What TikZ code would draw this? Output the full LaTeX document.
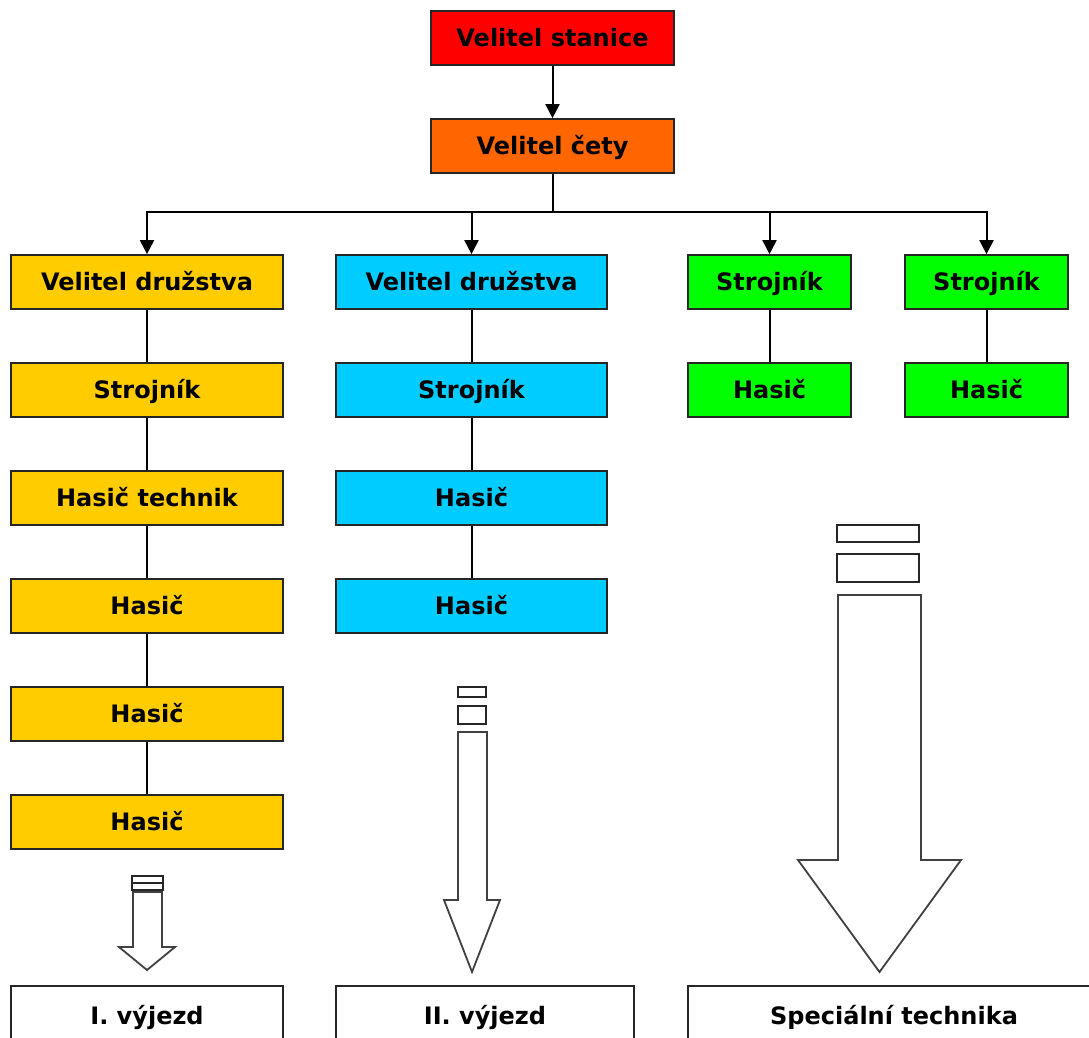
\documentclass[tikz,border=0pt]{standalone}
\usepackage{fontspec}
\setmainfont{DejaVu Sans}
\usetikzlibrary{arrows.meta}

\definecolor{cRed}{HTML}{FF0000}
\definecolor{cOrange}{HTML}{FF6600}
\definecolor{cYellow}{HTML}{FFCC00}
\definecolor{cCyan}{HTML}{00CCFF}
\definecolor{cGreen}{HTML}{00FF00}

\tikzset{
  unitbox/.style={draw=black!85, line width=1.7pt, inner sep=0pt,
    minimum height=54pt, text height=17pt, text depth=0pt,
    font=\fontsize{24}{26}\selectfont\bfseries},
  widebox/.style={unitbox, minimum width=272pt},
  topbox/.style={unitbox, minimum width=243pt},
  narrowbox/.style={unitbox, minimum width=163pt},
  endbox/.style={unitbox, anchor=north, minimum height=60pt, fill=white},
  link/.style={line width=2pt, black},
  flow/.style={link, -{Triangle[length=14pt,width=14pt]}},
  blockarrow/.style={draw=black!75, line width=1.8pt, fill=white, line join=miter},
  barbox/.style={draw=black!85, line width=1.5pt, fill=white}
}

\begin{document}
\begin{tikzpicture}[x=1pt,y=-1pt]
\clip (0,0) rectangle (1089,1037);
\fill[white] (0,0) rectangle (1089,1037);

% command chain
\node[topbox, fill=cRed]    (stanice) at (552.5,38)  {Velitel stanice};
\node[topbox, fill=cOrange] (cety)    at (552.5,146) {Velitel čety};

% first unit (yellow)
\node[widebox, fill=cYellow] (a1) at (147,282) {Velitel družstva};
\node[widebox, fill=cYellow] (a2) at (147,390) {Strojník};
\node[widebox, fill=cYellow] (a3) at (147,498) {Hasič technik};
\node[widebox, fill=cYellow] (a4) at (147,606) {Hasič};
\node[widebox, fill=cYellow] (a5) at (147,714) {Hasič};
\node[widebox, fill=cYellow] (a6) at (147,822) {Hasič};

% second unit (blue)
\node[widebox, minimum width=271pt, fill=cCyan] (b1) at (471.5,282) {Velitel družstva};
\node[widebox, minimum width=271pt, fill=cCyan] (b2) at (471.5,390) {Strojník};
\node[widebox, minimum width=271pt, fill=cCyan] (b3) at (471.5,498) {Hasič};
\node[widebox, minimum width=271pt, fill=cCyan] (b4) at (471.5,606) {Hasič};

% special vehicles (green)
\node[narrowbox, fill=cGreen] (c1) at (769.5,282) {Strojník};
\node[narrowbox, fill=cGreen] (c2) at (769.5,390) {Hasič};
\node[narrowbox, fill=cGreen] (d1) at (986.5,282) {Strojník};
\node[narrowbox, fill=cGreen] (d2) at (986.5,390) {Hasič};

% connectors
\draw[flow] (stanice) -- (cety);
\coordinate (bus) at (552.5,212);
\draw[link] (cety.south) -- (bus);
\draw[flow] (bus) -| (a1.north);
\draw[flow] (bus) -| (b1.north);
\draw[flow] (bus) -| (c1.north);
\draw[flow] (bus) -| (d1.north);

\draw[link] (a1) -- (a2) (a2) -- (a3) (a3) -- (a4) (a4) -- (a5) (a5) -- (a6);
\draw[link] (b1) -- (b2) (b2) -- (b3) (b3) -- (b4);
\draw[link] (c1) -- (c2);
\draw[link] (d1) -- (d2);

% block arrows with their bars
\draw[barbox] (132,876) rectangle (163,883);
\draw[barbox] (132,883) rectangle (163,890);
\draw[blockarrow] (133,892) -- (162,892) -- (162,947) -- (175,947) -- (147,970)
  -- (119,947) -- (133,947) -- cycle;

\draw[barbox] (458,687) rectangle (486,697);
\draw[barbox] (458,706) rectangle (486,724);
\draw[blockarrow] (458,732) -- (487,732) -- (487,900) -- (500,900) -- (472,972)
  -- (444,900) -- (458,900) -- cycle;

\draw[barbox] (837,525) rectangle (919,542);
\draw[barbox] (837,554) rectangle (919,582);
\draw[blockarrow] (838,595) -- (921,595) -- (921,860) -- (961,860) -- (879.5,972)
  -- (798,860) -- (838,860) -- cycle;

% departures
\node[endbox, minimum width=272pt] (v1) at (147,985) {I. výjezd};
\node[endbox, minimum width=298pt] (v2) at (485,985) {II. výjezd};
\node[endbox, minimum width=412pt] (v3) at (894,985) {Speciální technika};
\end{tikzpicture}
\end{document}
